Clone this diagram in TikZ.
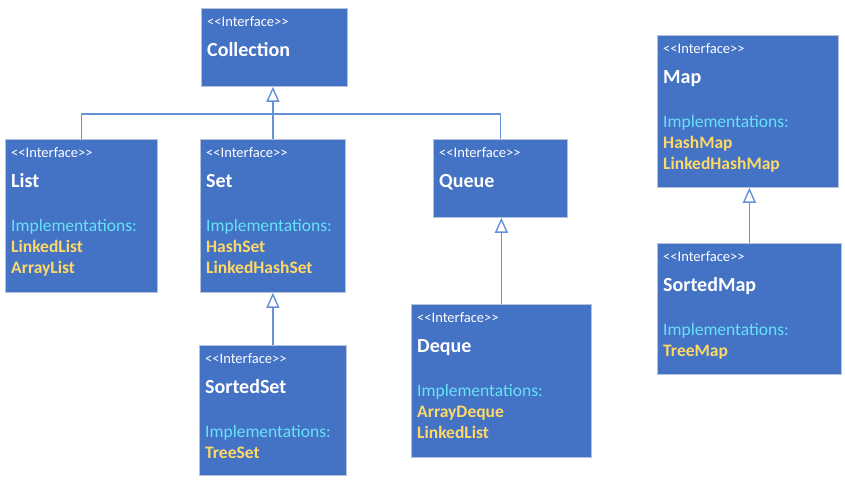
\documentclass[tikz,border=0pt]{standalone}
\usepackage{fontspec}
\setmainfont{Carlito}
\usetikzlibrary{arrows.meta}

\definecolor{boxblue}{HTML}{4472C4}
\definecolor{boxedge}{HTML}{B4C2DC}
\definecolor{linkblue}{HTML}{6690D8}
\definecolor{implcyan}{HTML}{66E3F7}
\definecolor{implyellow}{HTML}{FFD966}

\newcommand\ifc{<\kern0pt<Interface>\kern0pt>}
% Stereotype and title lines of one box.
\newcommand\ifacehead[2]{%
  \node[stereo] (#1-st) at ([xshift=6pt,yshift=-18pt]#1.north west) {\ifc};
  \node[ititle] (#1-ti) at ([xshift=6pt,yshift=-48pt]#1.north west) {#2};
}
% Implementations list of one box.
\newcommand\ifaceimpl[2]{%
  \node[implhead] (#1-ih) at ([xshift=6pt,yshift=-92pt]#1.north west) {Implementations:};
  \foreach \n [count=\i] in {#2}
    \node[implname] (#1-n\i) at ([xshift=6pt,yshift={-92pt-21pt*\i}]#1.north west) {\n};
}

\tikzset{
  ibox/.style={draw=boxedge, line width=0.8pt, fill=boxblue, anchor=north west, inner sep=0pt},
  stereo/.style={anchor=base west, inner sep=0pt, text=white, font=\fontsize{14.5}{17}\selectfont},
  ititle/.style={anchor=base west, inner sep=0pt, text=white, font=\bfseries\fontsize{20}{24}\selectfont},
  implhead/.style={anchor=base west, inner sep=0pt, text=implcyan, font=\fontsize{17.5}{21}\selectfont},
  implname/.style={anchor=base west, inner sep=0pt, text=implyellow, font=\bfseries\fontsize{17.5}{21}\selectfont},
  link/.style={draw=linkblue, line width=1.4pt},
  inherit/.style={link, -{Triangle[open, width=13pt, length=15pt]}},
}

\begin{document}
\begin{tikzpicture}[x=1pt, y=-1pt]
  \useasboundingbox (0,0) rectangle (845,479);
  % Collection hierarchy.
  \node[ibox, minimum width=146, minimum height=78] (coll) at (201,8) {};
  \node[ibox, minimum width=152, minimum height=153] (list) at (5,139) {};
  \node[ibox, minimum width=145, minimum height=153] (set) at (200,139) {};
  \node[ibox, minimum width=134, minimum height=78] (queue) at (433,139) {};
  \node[ibox, minimum width=147, minimum height=130] (sset) at (199,345) {};
  \node[ibox, minimum width=180, minimum height=153] (deque) at (411,304) {};
  % Map hierarchy.
  \node[ibox, minimum width=181, minimum height=152] (map) at (657,35) {};
  \node[ibox, minimum width=184, minimum height=131] (smap) at (657,243) {};

  % Box texts.
  \ifacehead{coll}{Collection}
  \ifacehead{list}{List}
  \ifaceimpl{list}{LinkedList,ArrayList}
  \ifacehead{set}{Set}
  \ifaceimpl{set}{HashSet,LinkedHashSet}
  \ifacehead{queue}{Queue}
  \ifacehead{sset}{SortedSet}
  \ifaceimpl{sset}{TreeSet}
  \ifacehead{deque}{Deque}
  \ifaceimpl{deque}{ArrayDeque,LinkedList}
  \ifacehead{map}{Map}
  \ifaceimpl{map}{HashMap,LinkedHashMap}
  \ifacehead{smap}{SortedMap}
  \ifaceimpl{smap}{TreeMap}

  % Inheritance connectors.
  \draw[link] (list.north) -- ++(0,-25) -| (queue.north);
  \draw[inherit] (set.north) -- (set.north |- coll.south);
  \draw[inherit] (sset.north) -- (sset.north |- set.south);
  \draw[inherit] (deque.north) -- (deque.north |- queue.south);
  \draw[inherit] (smap.north) -- (smap.north |- map.south);
\end{tikzpicture}
\end{document}
